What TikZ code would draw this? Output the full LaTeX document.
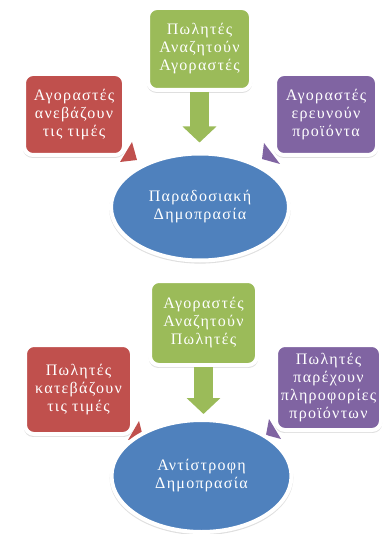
\documentclass[tikz,border=0pt]{standalone}
\usepackage{fontspec}
\setmainfont{Liberation Serif}
\newfontfamily\boxfont{Liberation Serif}[LetterSpace=8.0]
\usepackage{tikz}
\usetikzlibrary{calc, shapes, shadows, arrows.meta}
\usepackage{xcolor}
\definecolor{rd}{RGB}{192,80,77}
\definecolor{gr}{RGB}{155,187,89}
\definecolor{pu}{RGB}{128,100,162}
\definecolor{bl}{RGB}{79,129,189}
\pgfdeclarelayer{bg}
\pgfsetlayers{bg,main}

\begin{document}
\begin{tikzpicture}[x=1pt, y=-1pt,
		box/.style={draw=white, line width=4pt, rounded corners=9pt, text=white, align=center,
			font=\boxfont\fontsize{16}{18}\selectfont,
			drop shadow={opacity=0.25, shadow xshift=0pt, shadow yshift=-2pt, shadow scale=1.02}},
		oval/.style={box, ellipse, rounded corners=0pt, fill=bl},
		arr/.style={gr, line width=19pt, -{Triangle[width=33pt, length=16pt]}}]
		\useasboundingbox (0,0) rectangle (383,534);
		\node[box, fill=gr, minimum width=103pt, minimum height=82pt] (1) at (199.5,49) {Πωλητές\\Αναζητούν\\Αγοραστές};
		\node[box, fill=rd, minimum width=100pt, minimum height=81pt] (2) at (74,114.5) {Αγοραστές\\ανεβάζουν\\τις τιμές};
		\node[box, fill=pu, minimum width=102pt, minimum height=81pt] (3) at (326,114.5) {Αγοραστές\\ερευνούν\\προϊόντα};
		\node[oval, minimum width=178pt, minimum height=107pt] (4) at (200,207) {Παραδοσιακή\\Δημοπρασία};
		\node[box, fill=gr, minimum width=107pt, minimum height=84pt] (5) at (203.5,323) {Αγοραστές\\Αναζητούν\\Πωλητές};
		\node[box, fill=rd, minimum width=107pt, minimum height=89pt] (6) at (78.5,389.5) {Πωλητές\\κατεβάζουν\\τις τιμές};
		\node[box, fill=pu, minimum width=105pt, minimum height=85pt] (7) at (328.5,387.5) {Πωλητές\\παρέχουν\\πληροφορίες\\προϊόντων};
		\node[oval, minimum width=180pt, minimum height=112pt] (8) at (201.5,476) {Αντίστροφη\\Δημοπρασία};
		\draw[arr, shorten >=9pt] (1.south) -- (1.south |- 4.north);
		\draw[arr, shorten >=4pt] (5.south) -- (5.south |- 8.north);
		\begin{pgfonlayer}{bg}
			\fill[rd] ($(2.south east)+(6,-15)$) -- ($(2.south east)+(11,3)$) -- ($(2.south east)+(-6,5)$) -- cycle;
			\fill[pu] ($(3.south west)+(-9,-14)$) -- ($(3.south west)+(-11,2)$) -- ($(3.south west)+(7,7)$) -- cycle;
			\fill[rd] ($(6.south east)+(5,-15)$) -- ($(6.south east)+(9,1)$) -- ($(6.south east)+(-6,4)$) -- cycle;
			\fill[pu] ($(7.south west)+(-5,-13)$) -- ($(7.south west)+(-8,3)$) -- ($(7.south west)+(7,7)$) -- cycle;
		\end{pgfonlayer}
	\end{tikzpicture}
\end{document}
